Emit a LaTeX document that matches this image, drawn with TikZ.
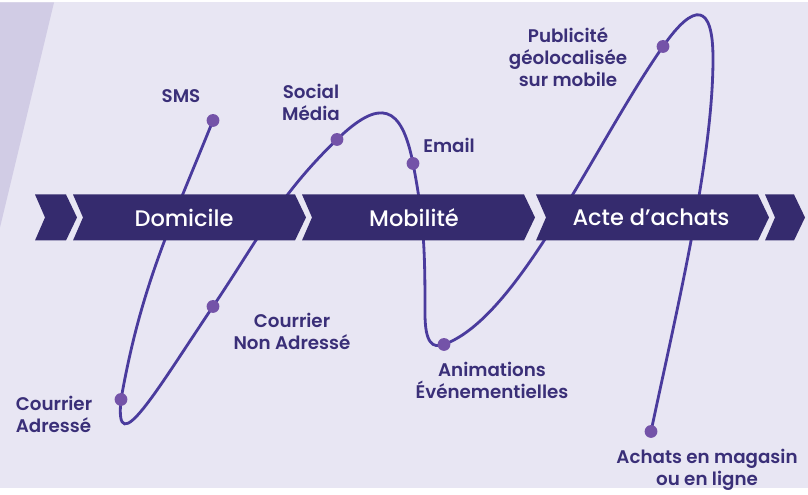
\documentclass[tikz,border=0pt]{standalone}
\usepackage{fontspec}
\setmainfont{Poppins}
\newfontfamily\labelfont{Poppins SemiBold}
\newfontfamily\phasefont{Poppins Medium}
\definecolor{bgpurple}{HTML}{E8E6F3}
\definecolor{stripe}{HTML}{D1CCE5}
\definecolor{navy}{HTML}{352B6E}
\definecolor{track}{HTML}{4A3B9D}
\definecolor{dotpurple}{HTML}{7453A8}
\definecolor{inkpurple}{HTML}{3A2F78}
\tikzset{%
  journey/.style={line width=2pt,draw=track},
  touch/.style={circle,fill=dotpurple,inner sep=0pt,minimum size=0.32cm},
  caption/.style={text=inkpurple,font=\labelfont\fontsize{13}{15.6}\selectfont,align=center},
  phase/.style={text=white,font=\phasefont\fontsize{16}{19}\selectfont},
}
\begin{document}
\begin{tikzpicture}[x=0.025cm,y=0.025cm]
  \fill[bgpurple] (0,0) rectangle (808,486);
  \fill[stripe] (0,486) -- (54,486) -- (0,261) -- cycle;

  % touch points along the path
  \coordinate (sms) at (213,368);
  \coordinate (cadr) at (121,89);
  \coordinate (cnadr) at (213,182);
  \coordinate (smedia) at (337,349);
  \coordinate (email) at (413,325);
  \coordinate (drop) at (425,175);
  \coordinate (anim) at (444,144);
  \coordinate (pub) at (663,442);
  \coordinate (rim) at (713,430);
  \coordinate (achats) at (651,57);

  \draw[journey] (sms) to[out=248,in=80] (cadr)
    .. controls +(264:65) and +(236:100) .. (cnadr)
    to[out=56,in=224] (smedia)
    .. controls +(44:60) and +(101:60) .. (email)
    .. controls +(281:60) and +(90:60) .. (drop)
    .. controls +(270:30) and +(200:12) .. (anim)
    .. controls +(20:80) and +(235:120) .. (pub)
    .. controls +(55:55) and +(90:55) .. (rim)
    .. controls +(270:100) and +(78:130) .. (achats);

  % the phases
  \foreach \l/\r in {35/66,73/295,302/524,536/758,765/794}
    \fill[navy] (\l,294) -- (\r,294) -- ({\r+11},271) -- (\r,248)
      -- (\l,248) -- ({\l+10},271) -- cycle;
  \node[phase] (domicile) at (184,271) {Domicile};
  \node[phase] (mobilite) at (414,271) {Mobilité};
  \node[phase] (acte) at (651,271) {Acte d’achats};

  \foreach \p in {sms,cadr,cnadr,smedia,email,anim,pub,achats}
    \node[touch] (\p-dot) at (\p) {};

  \node[caption] (sms-lbl) at (181,392) {SMS};
  \node[caption] (smedia-lbl) at (311,386) {Social\\Média};
  \node[caption] (email-lbl) at (449,343) {Email};
  \node[caption] (cnadr-lbl) at (292,157) {Courrier\\Non Adressé};
  \node[caption,align=left] (cadr-lbl) at (54,74) {Courrier\\Adressé};
  \node[caption] (anim-lbl) at (492,108) {Animations\\Événementielles};
  \node[caption] (pub-lbl) at (568,431) {Publicité\\géolocalisée\\sur mobile};
  \node[caption] (achats-lbl) at (707,19) {Achats en magasin\\ou en ligne};
\end{tikzpicture}
\end{document}
